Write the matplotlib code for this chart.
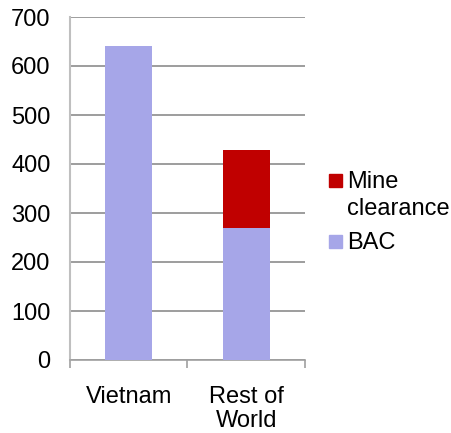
import matplotlib
matplotlib.use("Agg")
import matplotlib.pyplot as plt
from matplotlib.patches import Rectangle

plt.rcParams['font.family'] = ['Liberation Sans', 'DejaVu Sans']

categories = ["Vietnam", "Rest of\nWorld"]
bac = [641, 270]
mine_clearance = [0, 159]
series_names = ["BAC", "Mine clearance"]
yticks = [0, 100, 200, 300, 400, 500, 600, 700]

c_bac = "#A6A6E8"
c_mine = "#C00000"
FS = 17

W, H = 452, 433
fig = plt.figure(figsize=(W/100, H/100), dpi=100)
ax = fig.add_axes([70/W, 1-360/H, 235/W, 343/H])

x = [0, 1]
ax.bar(x, bac, width=0.4, color=c_bac, zorder=3)
ax.bar(x, mine_clearance, width=0.4, bottom=bac, color=c_mine, zorder=3)

ax.set_xlim(-0.5, 1.5)
ax.set_ylim(0, 700)
ax.set_yticks(yticks)
ax.set_yticklabels([str(v) for v in yticks], fontsize=FS)
ax.yaxis.grid(True, color="#8C8C8C", linewidth=1.2, zorder=0)
ax.set_axisbelow(True)
ax.tick_params(axis='y', length=0, pad=14)

ax.set_xticks([-0.5, 0.5, 1.5])
ax.set_xticklabels([])
ax.set_xticks(x, minor=True)
ax.set_xticklabels(categories, minor=True, fontsize=FS, linespacing=1.1)
ax.tick_params(axis='x', which='major', length=6, color="#A0A0A0", width=1.2, direction='out')
ax.tick_params(axis='x', which='minor', length=0, pad=19)

for s in ["top", "right"]:
    ax.spines[s].set_visible(False)
ax.spines["left"].set_color("#BFBFBF")
ax.spines["left"].set_linewidth(1.5)
ax.spines["bottom"].set_color("#A0A0A0")
ax.spines["bottom"].set_linewidth(1.2)

# Legend (series order reversed, as in the reference)
legend_items = [(c_mine, "Mine\nclearance", 188), (c_bac, "BAC", 249)]
for color, label, baseline in legend_items:
    fig.patches.append(Rectangle((329/W, 1-(baseline-1)/H), 13/W, 13/H,
                                 transform=fig.transFigure, color=color))
    fig.text(347/W, 1-baseline/H, label.split("\n")[0], fontsize=FS, va='baseline', ha='left')
    for i, extra in enumerate(label.split("\n")[1:], start=1):
        fig.text(347/W, 1-(baseline+27*i)/H, extra, fontsize=FS, va='baseline', ha='left')

fig.savefig("out.png", dpi=100)
